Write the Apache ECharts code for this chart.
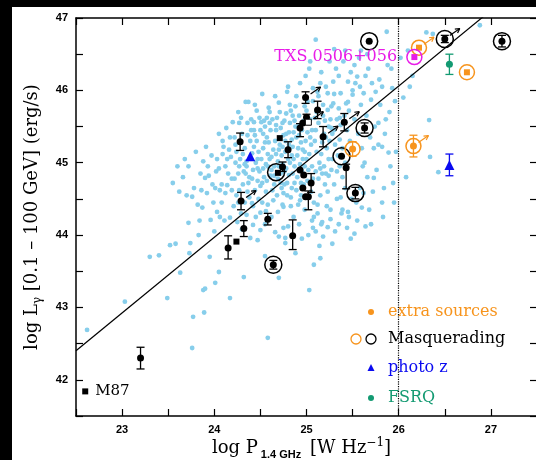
<!DOCTYPE html>
<html>
<head>
<meta charset="utf-8">
<script src="https://cdn.jsdelivr.net/npm/echarts@6/dist/echarts.min.js"></script>
<style>
  html, body { margin: 0; padding: 0; background: #000; overflow: hidden; }
  #chart { position: absolute; left: 12px; top: 7px; width: 530px; height: 453px; background: #fff; }
</style>
</head>
<body>
<div id="chart"></div>
<script>
// axis ranges
const xRange = [22.5, 27.5];
const yRange = [41.5, 47];
const dividerX = 26;
// fit line y = a + b * x
const fitLine = [18.89, 1.045];

// light blue sources (log P, log L)
const cloud = [
  [22.62,42.69],[23.03,43.08],[23.30,43.70],[23.40,43.72],[23.49,43.13],
  [23.52,43.86],[23.55,44.72],[23.58,43.88],[23.63,43.48],[23.66,44.80],[23.72,44.17],[23.73,43.75],
  [23.74,43.89],[23.70,44.55],[23.76,44.53],[23.76,42.44],[23.60,44.95],[23.68,45.05],
  [23.62,44.60],[23.72,44.95],[23.78,44.65],[23.82,44.42],[23.88,45.02],[23.94,44.82],[23.99,44.45],
  [23.84,44.20],[23.91,45.22],[24.01,44.65],
  [23.77,42.87],[23.83,44.00],[23.87,44.38],[23.88,43.24],[23.89,42.93],[23.90,43.26],[23.90,44.79],
  [23.92,44.58],[23.95,43.70],[23.96,44.21],[23.85,44.85],[23.93,44.95],[23.98,44.70],[23.80,45.15],
  [23.97,45.10],[23.86,44.62],
  [24.01,43.34],[24.03,44.32],[24.05,43.49],[24.10,45.22],[24.09,45.12],[24.18,45.08],[24.14,44.69],
  [24.17,44.24],[24.17,43.13],[24.02,44.88],[24.06,44.62],[24.08,44.45],[24.12,44.95],[24.15,44.85],
  [24.20,45.56],[24.22,45.35],[24.24,44.55],[24.05,45.40],[24.11,44.20],[24.19,44.78],[24.23,45.00],
  [24.13,45.48],[24.00,44.05],[24.16,45.18],[24.21,44.40],[24.08,44.70],[24.24,45.15],[24.12,44.58],
  [24.03,45.05],[24.06,44.25],[24.22,44.78],[24.17,45.35],
  [24.05,44.92],[24.09,45.30],[24.14,45.05],[24.19,44.62],[24.23,45.25],[24.26,44.45],[24.29,45.62],
  [24.33,44.98],[24.36,45.38],[24.38,44.52],[24.41,44.78],[24.44,45.38],[24.47,44.92],[24.50,45.45],
  [24.32,43.42],[24.34,45.84],[24.37,45.84],[24.41,44.44],[24.42,44.14],[24.47,43.93],[24.39,43.96],
  [24.50,44.31],[24.50,44.07],[24.44,45.80],[24.27,45.55],[24.30,45.40],[24.33,45.20],[24.28,45.05],
  [24.35,44.95],[24.38,44.80],[24.31,44.70],[24.26,44.85],[24.40,45.60],[24.43,45.45],[24.46,45.30],
  [24.48,45.15],[24.45,45.00],[24.42,44.90],[24.47,44.75],[24.36,44.60],[24.29,44.30],[24.33,44.45],
  [24.44,44.62],[24.39,45.30],[24.26,45.70],[24.36,45.55],[24.49,45.62],[24.45,44.25],[24.30,44.08],
  [24.48,44.50],[24.27,44.95],[24.41,45.13],[24.35,45.02],[24.46,45.72],[24.32,44.88],[24.31,45.12],
  [24.37,44.72],[24.43,45.22],[24.49,44.88],[24.34,44.85],[24.40,45.45],[24.47,45.05],[24.27,44.62],
  [24.25,44.18],[24.35,44.28],[24.42,44.40],[24.43,45.56],
  [24.55,43.71],[24.58,42.58],[24.58,44.42],[24.59,45.76],[24.66,44.04],[24.69,44.32],[24.70,43.41],
  [24.70,43.98],[24.70,45.83],[24.52,45.95],[24.55,45.50],[24.57,45.35],[24.53,45.20],[24.60,45.05],
  [24.62,44.90],[24.54,44.80],[24.65,44.70],[24.68,44.55],[24.56,44.60],[24.63,45.60],[24.67,45.45],
  [24.71,45.25],[24.73,45.10],[24.64,45.18],[24.51,45.05],[24.58,44.95],[24.72,44.85],[24.60,45.70],
  [24.66,45.92],[24.74,45.55],[24.52,44.45],[24.62,44.25],[24.73,44.65],[24.55,44.15],[24.69,45.02],
  [24.57,45.62],[24.61,44.82],[24.74,44.42],[24.53,45.40],[24.66,45.30],[24.70,44.95],[24.64,44.48],
  [24.50,44.68],[24.59,45.28],[24.71,45.70],[24.75,45.38],[24.54,45.58],[24.56,44.98],[24.61,45.45],
  [24.63,44.62],[24.67,45.12],[24.69,44.78],[24.72,45.48],[24.74,44.98],[24.52,44.72],[24.58,45.12],
  [24.65,44.95],[24.68,45.62],[24.56,44.33],[24.51,45.56],
  [24.53,44.92],[24.55,45.28],[24.57,44.75],[24.60,45.55],[24.62,45.08],[24.65,44.82],[24.67,45.52],
  [24.70,45.18],[24.72,44.72],[24.74,45.22],
  [24.75,44.39],[24.77,43.89],[24.79,45.98],[24.80,46.05],[24.93,46.10],[24.82,45.80],[24.85,45.65],
  [24.88,45.50],[24.78,45.40],[24.81,45.25],[24.84,45.10],[24.87,44.95],[24.90,44.80],[24.76,44.70],
  [24.79,44.55],[24.83,44.40],[24.86,44.25],[24.92,44.15],[24.95,43.95],[24.98,44.35],[24.94,44.55],
  [24.97,44.70],[24.91,45.20],[24.96,45.05],[24.99,45.30],[24.89,45.35],[24.77,45.15],[24.82,45.00],
  [24.85,44.85],[24.95,45.45],[24.92,45.65],[24.98,45.78],[24.89,45.92],[24.76,45.58],[24.84,44.65],
  [24.80,44.12],[24.88,43.75],[24.78,44.92],[24.93,44.98],[24.97,45.58],[24.86,45.42],[24.91,44.42],
  [24.83,45.72],[24.99,46.20],[24.81,44.83],[24.94,45.28],[24.77,45.30],[24.79,44.72],[24.82,45.55],
  [24.84,45.32],[24.87,44.72],[24.90,45.10],[24.92,45.38],[24.95,44.88],[24.98,45.15],[24.75,44.58],
  [24.81,45.42],[24.86,45.05],[24.88,45.78],[24.94,44.72],[24.77,43.96],[24.75,44.10],
  [24.76,44.88],[24.78,45.68],[24.80,45.05],[24.83,44.52],[24.85,45.22],[24.87,45.58],[24.89,44.62],
  [24.91,45.50],[24.93,44.48],[24.96,45.18],[24.98,44.95],
  [25.02,44.00],[25.03,43.24],[25.03,46.30],[25.07,46.03],[25.08,43.59],[25.10,46.70],[25.12,45.98],
  [25.15,46.10],[25.23,45.96],[25.23,45.73],[25.01,45.85],[25.04,45.60],[25.06,45.45],[25.09,45.30],
  [25.11,45.15],[25.14,45.00],[25.17,44.85],[25.20,44.70],[25.05,44.60],[25.08,44.45],[25.12,44.30],
  [25.16,44.15],[25.02,44.90],[25.19,45.40],[25.22,45.20],[25.13,45.55],[25.18,45.80],[25.21,46.05],
  [25.24,45.50],[25.06,44.20],[25.15,44.55],[25.10,44.05],[25.22,44.40],[25.00,45.05],[25.07,44.78],
  [25.19,44.95],[25.24,45.05],[25.04,46.40],[25.16,46.25],[25.11,45.70],[25.23,44.60],[25.14,43.85],
  [25.01,45.42],[25.03,45.12],[25.06,44.95],[25.09,45.62],[25.13,44.78],[25.16,45.12],[25.20,45.58],
  [25.00,45.72],[25.05,45.25],[25.10,44.88],[25.17,45.28],[25.21,44.85],[25.08,44.25],[25.17,44.18],
  [25.23,44.11],[25.07,44.10],
  [25.01,44.75],[25.04,45.35],[25.07,45.85],[25.10,45.45],[25.13,45.92],[25.15,44.92],[25.18,45.65],
  [25.21,45.35],[25.24,44.82],[25.12,44.42],[25.18,43.98],[25.15,43.68],
  [25.29,46.12],[25.29,45.82],[25.30,46.57],[25.37,45.96],[25.45,46.12],[25.45,45.84],[25.48,46.25],
  [25.26,45.60],[25.28,45.40],[25.31,45.25],[25.34,45.10],[25.36,44.95],[25.39,44.80],[25.42,44.65],
  [25.27,44.90],[25.30,44.70],[25.33,44.50],[25.38,44.30],[25.44,44.10],[25.48,43.95],[25.41,45.65],
  [25.35,45.75],[25.44,45.45],[25.47,45.30],[25.32,46.30],[25.40,46.40],[25.26,44.35],[25.35,44.15],
  [25.42,45.00],[25.49,44.50],[25.37,45.52],[25.46,45.72],[25.30,45.95],[25.50,46.00],[25.25,45.30],
  [25.28,45.05],[25.27,45.48],[25.33,45.60],[25.36,45.32],[25.39,44.35],[25.45,44.32],
  [25.27,45.78],[25.30,45.45],[25.33,44.88],[25.36,45.62],[25.39,45.20],[25.43,45.82],[25.42,46.55],
  [25.35,46.20],[25.25,46.40],[25.26,44.22],[25.31,44.05],[25.37,44.52],[25.46,44.25],[25.28,43.88],
  [25.53,46.10],[25.55,46.19],[25.50,45.94],[25.59,45.80],[25.62,45.96],[25.70,45.87],[25.52,45.60],
  [25.56,45.40],[25.60,45.20],[25.63,45.00],[25.66,44.80],[25.58,44.65],[25.54,44.45],[25.68,44.35],
  [25.72,44.60],[25.65,45.65],[25.74,45.50],[25.67,46.30],[25.57,46.45],[25.71,46.10],[25.61,44.95],
  [25.55,44.20],[25.73,45.20],[25.64,44.12],[25.69,45.35],[25.59,46.55],[25.73,44.79],
  [25.52,46.35],[25.58,46.05],[25.64,46.20],[25.66,46.50],[25.52,44.02],[25.60,44.38],[25.70,44.15],
  [25.62,44.58],
  [25.80,45.80],[25.82,45.22],[25.87,46.81],[25.93,46.03],[25.78,45.55],[25.85,45.40],[25.90,45.70],
  [25.76,44.90],[25.84,44.65],[25.95,44.45],[25.88,46.35],[25.79,46.15],[25.97,45.15],[25.91,44.95],
  [25.83,44.25],[25.89,45.14],[25.75,45.98],[25.82,46.05],[25.86,45.60],[25.92,46.30],[25.96,45.85],
  [25.78,45.25],[25.82,44.45],[25.94,44.72],
  [26.05,45.90],[26.10,46.55],[26.08,44.80],[26.15,46.20],[26.30,46.80],[26.37,46.78],[26.33,45.59],
  [26.34,45.08],[26.43,44.87],[26.88,46.90],[26.12,46.05],[26.02,46.45]
];

// black detections: [logP, logL, err down, err up]
const detections = [
  [24.28,45.29,0.12,0.12],[24.29,44.47,0.12,0.12],[24.32,44.09,0.11,0.11],[24.15,43.82,0.15,0.17],
  [23.20,42.30,0.15,0.15],[24.58,44.22,0.08,0.08],[24.80,45.18,0.11,0.11],[24.99,45.90,0.08,0.08],
  [25.12,45.73,0.12,0.12],[25.00,45.63,0.10,0.04],[24.96,45.55,0,0],[24.93,45.48,0.12,0.06],
  [25.18,45.36,0.14,0.14],[25.41,45.56,0.12,0.12],[25.43,44.93,0.29,0.05],[24.74,44.94,0.06,0.07],
  [24.93,44.90,0,0],[24.97,44.83,0,0],[25.05,44.72,0.13,0.13],[24.96,44.65,0,0],[24.99,44.53,0,0],
  [25.02,44.53,0.18,0.08],[24.85,43.99,0.19,0.22],
  [25.63,45.48,0.07,0.07],[25.68,46.68,0,0],[26.50,46.71,0.05,0.05],[27.12,46.68,0.08,0.08],
  [25.38,45.09,0,0],[25.53,44.58,0.08,0.08],[24.64,43.59,0.06,0.06]
];
const blackSquares = [[24.71,45.34],[24.24,43.91],[24.69,44.86]];
const openSquares = [[25.02,45.56]];
const m87 = [[22.60,41.84]];
const masqRings = [[25.63,45.48],[25.68,46.68],[26.50,46.71],[27.12,46.68],[25.38,45.09],[25.53,44.58],[24.67,44.87],[24.64,43.59]];
const blackArrows = [[24.99,45.90],[25.41,45.56],[25.18,45.36],[24.29,44.47],[26.50,46.71],[25.02,45.56]];

// extra sources (orange)
const extraRings = [[26.22,46.59],[26.74,46.25],[26.16,45.23],[25.50,45.19]];
const extraSquares = [[26.22,46.59],[26.74,46.25]];
const extraDots = [[26.16,45.23,0.15,0.15],[25.50,45.19,0.10,0.10]];
const extraArrows = [[26.22,46.59],[26.16,45.23]];

const txs = [[26.17,46.46]];
const fsrq = [[26.55,46.36,0.14,0.14]];
const photoZ = [[26.55,44.97,0.15,0.15],[24.39,45.09,0,0]];

const ORANGE = '#f7941d', GREEN = '#139a72', BLUE = '#0a0af0', MAGENTA = '#e81ce8', SKY = '#87ceeb';
const SERIF = 'DejaVu Serif';

function intLabel (v) {
  return Math.abs(v - Math.round(v)) < 1e-6 ? String(Math.round(v)) : '';
}

function makeAxis (range, position, showLabel) {
  return {
    type: 'value', min: range[0], max: range[1], interval: 0.5, position: position,
    axisLine: { show: true, onZero: false, lineStyle: { color: '#000', width: 1.5 } },
    axisTick: { show: true, inside: true, length: 7, lineStyle: { color: '#000', width: 1.2 } },
    splitLine: { show: false },
    axisLabel: {
      show: showLabel, formatter: intLabel, color: '#000', margin: 8,
      fontFamily: 'Liberation Sans', fontWeight: 'bold', fontSize: 11
    }
  };
}

function errSeries (data, color) {
  return {
    type: 'custom', data: data, z: 4, silent: true,
    renderItem: function (params, api) {
      const x = api.value(0), y = api.value(1), lo = api.value(2), hi = api.value(3);
      if (!lo && !hi) return null;
      const p = api.coord([x, y]);
      const t = api.coord([x, y + hi]);
      const b = api.coord([x, y - lo]);
      const st = { stroke: color, lineWidth: 1.3 };
      const children = [{ type: 'line', shape: { x1: p[0], y1: t[1], x2: p[0], y2: b[1] }, style: st }];
      if (hi > 0) children.push({ type: 'line', shape: { x1: p[0] - 4, y1: t[1], x2: p[0] + 4, y2: t[1] }, style: st });
      if (lo > 0) children.push({ type: 'line', shape: { x1: p[0] - 4, y1: b[1], x2: p[0] + 4, y2: b[1] }, style: st });
      return { type: 'group', children: children };
    }
  };
}

function arrowSeries (data, color) {
  return {
    type: 'custom', data: data, z: 6, silent: true,
    renderItem: function (params, api) {
      const p = api.coord([api.value(0), api.value(1)]);
      const x1 = p[0] + 5, y1 = p[1] - 3.5, x2 = p[0] + 15, y2 = p[1] - 10.5;
      const ang = Math.atan2(y2 - y1, x2 - x1);
      const h = 5;
      const st = { stroke: color, lineWidth: 1.2 };
      return {
        type: 'group',
        children: [
          { type: 'line', shape: { x1: x1, y1: y1, x2: x2, y2: y2 }, style: st },
          { type: 'line', shape: { x1: x2, y1: y2, x2: x2 - h * Math.cos(ang - 0.5), y2: y2 - h * Math.sin(ang - 0.5) }, style: st },
          { type: 'line', shape: { x1: x2, y1: y2, x2: x2 - h * Math.cos(ang + 0.5), y2: y2 - h * Math.sin(ang + 0.5) }, style: st }
        ]
      };
    }
  };
}

function pts (data) {
  return data.map(function (d) { return [d[0], d[1]]; });
}

// plain filled scatter marks, full opacity
function marks (data, symbol, size, color, extra) {
  const s = {
    type: 'scatter', data: data, symbol: symbol, symbolSize: size, z: 5, silent: true,
    itemStyle: { color: color, opacity: 1 }
  };
  return Object.assign(s, extra || {});
}

function ringSeries (data, color, size) {
  return {
    type: 'scatter', data: data, symbol: 'circle', symbolSize: size, z: 5, silent: true,
    itemStyle: { color: 'rgba(0,0,0,0)', borderColor: color, borderWidth: 1.5, opacity: 1 }
  };
}

const chart = echarts.init(document.getElementById('chart'));

const xMain = makeAxis(xRange, 'bottom', true);
xMain.name = '{a|log P}{s|1.4 GHz}{a| [W Hz}{p|−1}{a|]}';
xMain.nameLocation = 'middle';
xMain.nameGap = 21;
xMain.nameMoveOverlap = false;
xMain.nameTextStyle = {
  padding: [0, 10, 0, 0],
  rich: {
    a: { fontFamily: SERIF, fontSize: 18, color: '#000', lineHeight: 23 },
    s: { fontFamily: 'Liberation Sans', fontWeight: 'bold', fontSize: 11, color: '#000', lineHeight: 21, verticalAlign: 'bottom', padding: [0, 3, 0, 3] },
    p: { fontFamily: SERIF, fontSize: 12, color: '#000', lineHeight: 23, verticalAlign: 'top' }
  }
};

const yMain = makeAxis(yRange, 'left', true);
yMain.name = '{a|log L}{g|γ}{a| [0.1 – 100 GeV] (erg/s)}';
yMain.nameLocation = 'middle';
yMain.nameRotate = 90;
yMain.nameGap = 32;
yMain.nameMoveOverlap = false;
yMain.nameTextStyle = {
  rich: {
    a: { fontFamily: SERIF, fontSize: 18, color: '#000', lineHeight: 23 },
    g: { fontFamily: SERIF, fontSize: 12, color: '#000', lineHeight: 23, verticalAlign: 'bottom' }
  }
};

const option = {
  animation: false,
  grid: { left: 64, top: 11, right: 5, bottom: 44, containLabel: false, outerBoundsMode: 'none' },
  xAxis: [xMain, makeAxis(xRange, 'top', false)],
  yAxis: [yMain, makeAxis(yRange, 'right', false)],
  graphic: [
    { type: 'circle', shape: { cx: 359, cy: 305, r: 3 }, style: { fill: ORANGE } },
    { type: 'text', x: 376, y: 305, style: { text: 'extra sources', fill: ORANGE, font: '16px "DejaVu Serif"', verticalAlign: 'middle' } },
    { type: 'circle', shape: { cx: 344, cy: 332, r: 5 }, style: { fill: 'none', stroke: ORANGE, lineWidth: 1.3 } },
    { type: 'circle', shape: { cx: 359, cy: 332, r: 5 }, style: { fill: 'none', stroke: '#000', lineWidth: 1.3 } },
    { type: 'text', x: 376, y: 332, style: { text: 'Masquerading', fill: '#000', font: '16px "DejaVu Serif"', verticalAlign: 'middle' } },
    { type: 'polygon', shape: { points: [[359, 357], [355.5, 364], [362.5, 364]] }, style: { fill: BLUE } },
    { type: 'text', x: 376, y: 361, style: { text: 'photo z', fill: BLUE, font: '16px "DejaVu Serif"', verticalAlign: 'middle' } },
    { type: 'circle', shape: { cx: 359, cy: 391, r: 3 }, style: { fill: GREEN } },
    { type: 'text', x: 376, y: 391, style: { text: 'FSRQ', fill: GREEN, font: '16px "DejaVu Serif"', verticalAlign: 'middle' } }
  ],
  series: [
    {
      type: 'scatter', data: cloud, symbolSize: 4.8, z: 1, silent: true,
      itemStyle: { color: SKY, opacity: 1 }
    },
    {
      type: 'line', z: 3, silent: true, symbol: 'none', clip: true,
      data: [xRange[0], xRange[1]].map(function (x) { return [x, fitLine[0] + fitLine[1] * x]; }),
      lineStyle: { color: '#000', width: 1.2 },
      markLine: {
        silent: true, symbol: 'none', label: { show: false },
        lineStyle: { color: '#000', type: 'dotted', width: 1.2 },
        data: [{ xAxis: dividerX }]
      }
    },
    errSeries(detections, '#000'),
    errSeries(extraDots, ORANGE),
    errSeries(fsrq, GREEN),
    errSeries(photoZ, BLUE),
    marks(pts(detections), 'circle', 7, '#000'),
    marks(blackSquares, 'rect', 6, '#000'),
    {
      type: 'scatter', data: openSquares, symbol: 'rect', symbolSize: 6, z: 5, silent: true,
      itemStyle: { color: '#fff', borderColor: '#000', borderWidth: 1, opacity: 1 }
    },
    marks(m87, 'rect', 6, '#000', {
      label: { show: true, formatter: 'M87', position: 'right', distance: 7, color: '#000', fontFamily: SERIF, fontSize: 15 }
    }),
    ringSeries(masqRings, '#000', 17),
    arrowSeries(blackArrows, '#000'),
    ringSeries(extraRings, ORANGE, 15),
    marks(extraSquares, 'rect', 6, ORANGE),
    marks(pts(extraDots), 'circle', 7, ORANGE),
    arrowSeries(extraArrows, ORANGE),
    {
      type: 'scatter', data: txs, symbol: 'circle', symbolSize: 15, z: 5, silent: true,
      itemStyle: { color: 'rgba(0,0,0,0)', borderColor: MAGENTA, borderWidth: 1.5, opacity: 1 },
      label: { show: true, formatter: 'TXS 0506+056', position: 'left', distance: 9, color: MAGENTA, fontFamily: SERIF, fontSize: 16 }
    },
    marks(txs, 'rect', 6, MAGENTA),
    marks(pts(fsrq), 'circle', 7, GREEN),
    marks(pts(photoZ), 'triangle', 10, BLUE)
  ]
};

chart.setOption(option);
</script>
</body>
</html>
